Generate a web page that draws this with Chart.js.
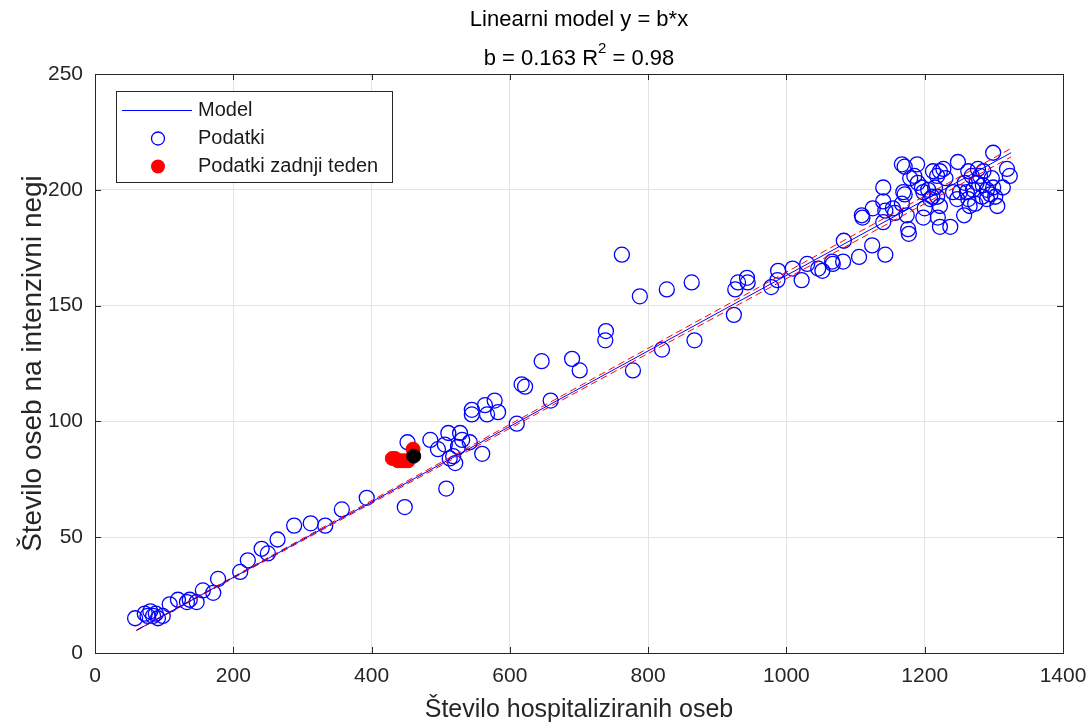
<!DOCTYPE html>
<html>
<head>
<meta charset="utf-8">
<script src="https://cdn.jsdelivr.net/npm/chart.js@4.4.1/dist/chart.umd.min.js"></script>
<style>
  html, body { margin: 0; padding: 0; background: #fff; }
  canvas { display: block; }
</style>
</head>
<body>
<canvas id="graf" width="1091" height="725"></canvas>
<script>
// podatki (hospitalizirani -> intenzivna nega), odčitano s slike
const podatkiX = [58, 72, 80, 84, 91, 98, 88, 76, 108, 120, 133, 137, 147, 156, 171, 178, 210, 221, 241, 250,
  264, 288, 312, 333, 357, 393, 448, 452, 485, 496, 506, 511, 508, 528, 531, 525, 542, 560, 518, 521,
  513, 545, 545, 564, 567, 578, 583, 610, 617, 622, 646, 659, 690, 701, 738, 739, 762, 778, 788, 820,
  827, 863, 867, 924, 926, 930, 943, 944, 978, 987, 988, 1009, 1022, 1030, 1046, 1052, 1066, 1067, 1082, 1083,
  1105, 1124, 1143, 1109, 1110, 1125, 1140, 1143, 1140, 1154, 1157, 1140, 1167, 1171, 1189, 1179, 1169, 1171, 1167, 1174,
  1176, 1177, 1190, 1196, 1198, 1200, 1198, 1208, 1212, 1218, 1222, 1227, 1222, 1219, 1222, 1237, 1205, 1211, 1218, 1241,
  1248, 1263, 1268, 1258, 1261, 1257, 1263, 1273, 1277, 1280, 1284, 1290, 1283, 1290, 1297, 1299, 1302, 1305, 1299, 1313,
  1319, 1323, 1251, 1247, 1185, 1230, 1270, 1285, 1295, 1275, 1265, 1215];
const podatkiY = [15, 17, 18, 16, 15, 16, 17, 16, 21, 23, 22, 23, 22, 27, 26, 32, 35, 40, 45, 43,
  49, 55, 56, 55, 62, 67, 63, 91, 92, 88, 90, 95, 71, 95, 92, 89, 91, 86, 85, 82,
  84, 105, 103, 107, 103, 109, 104, 99, 116, 115, 126, 109, 127, 122, 135, 139, 172, 122, 154, 131,
  157, 160, 135, 146, 157, 160, 162, 160, 158, 161, 165, 166, 161, 168, 166, 165, 169, 168, 169, 178,
  171, 176, 172, 189, 188, 192, 195, 191, 201, 192, 190, 186, 211, 210, 211, 205, 199, 198, 194, 189,
  183, 181, 203, 201, 199, 192, 188, 196, 208, 206, 208, 209, 193, 188, 184, 184, 200, 197, 197, 199,
  212, 208, 206, 203, 199, 189, 196, 194, 209, 206, 202, 200, 197, 196, 205, 201, 197, 193, 216, 201,
  209, 206, 199, 196, 206, 205, 200, 208, 198, 203, 193, 201];

// zadnji teden (rdeče) in zadnji dan (črno)
const zadnjiX = [430, 434, 438, 443, 448, 453, 460];
const zadnjiY = [84, 84, 83, 83, 83, 83, 88];
const zadnjiDanX = [461];
const zadnjiDanY = [85];

// model y = b*x in meje (rdeče črtkano)
const modelX = [60, 1325];
const modelY = [9.8, 216.0];
const spodnjaY = [9.7, 214.2];
const zgornjaY = [9.9, 217.9];

const xTicks = [0, 200, 400, 600, 800, 1000, 1200, 1400];
const yTicks = [0, 50, 100, 150, 200, 250];

const pisava = "'Liberation Sans', Arial, sans-serif";
const tockeIz = (xs, ys) => xs.map((x, i) => ({ x: x, y: ys[i] }));

const okvir = {
  id: "okvir",
  afterDraw(chart) {
    const ctx = chart.ctx;
    const a = chart.chartArea;
    const sx = chart.scales.x, sy = chart.scales.y;
    ctx.save();
    ctx.strokeStyle = "#262626";
    ctx.lineWidth = 1;
    ctx.beginPath();
    xTicks.forEach((v) => {
      const p = Math.round(sx.getPixelForValue(v)) + 0.5;
      ctx.moveTo(p, a.bottom); ctx.lineTo(p, a.bottom - 6);
      ctx.moveTo(p, a.top); ctx.lineTo(p, a.top + 6);
    });
    yTicks.forEach((v) => {
      const p = Math.round(sy.getPixelForValue(v)) + 0.5;
      ctx.moveTo(a.left, p); ctx.lineTo(a.left + 6, p);
      ctx.moveTo(a.right, p); ctx.lineTo(a.right - 6, p);
    });
    ctx.stroke();
    ctx.strokeRect(Math.round(a.left) + 0.5, Math.round(a.top) + 0.5,
      Math.round(a.right - a.left), Math.round(a.bottom - a.top));

    // legenda
    const lx = 116.5, ly = 91.5, lw = 276, lh = 91;
    ctx.fillStyle = "#fff";
    ctx.fillRect(lx, ly, lw, lh);
    ctx.strokeRect(lx, ly, lw, lh);
    ctx.strokeStyle = "#0000ff";
    ctx.beginPath();
    ctx.moveTo(122, 110.5); ctx.lineTo(192, 110.5);
    ctx.stroke();
    ctx.lineWidth = 1.3;
    ctx.beginPath();
    ctx.arc(158, 138.5, 6.5, 0, Math.PI * 2);
    ctx.stroke();
    ctx.fillStyle = "#ff0000";
    ctx.beginPath();
    ctx.arc(158, 166.5, 7, 0, Math.PI * 2);
    ctx.fill();
    ctx.fillStyle = "#1a1a1a";
    ctx.font = "20px " + pisava;
    ctx.textAlign = "left";
    ctx.textBaseline = "middle";
    ctx.fillText("Model", 198, 110);
    ctx.fillText("Podatki", 198, 138);
    ctx.fillText("Podatki zadnji teden", 198, 166);

    // naslov
    const cx = (a.left + a.right) / 2;
    ctx.fillStyle = "#000";
    ctx.font = "22px " + pisava;
    ctx.textAlign = "center";
    ctx.fillText("Linearni model y = b*x", cx, 20);
    const d1 = "b = 0.163 R", d2 = "2", d3 = " = 0.98";
    const w1 = ctx.measureText(d1).width, w3 = ctx.measureText(d3).width;
    ctx.font = "15px " + pisava;
    const w2 = ctx.measureText(d2).width;
    let x0 = cx - (w1 + w2 + w3) / 2;
    ctx.textAlign = "left";
    ctx.font = "22px " + pisava;
    ctx.fillText(d1, x0, 59);
    ctx.font = "15px " + pisava;
    ctx.fillText(d2, x0 + w1, 49);
    ctx.font = "22px " + pisava;
    ctx.fillText(d3, x0 + w1 + w2, 59);
    ctx.restore();
  }
};

new Chart(document.getElementById("graf").getContext("2d"), {
  type: "scatter",
  data: {
    datasets: [
      {
        label: "Zadnji dan",
        data: tockeIz(zadnjiDanX, zadnjiDanY),
        backgroundColor: "#000",
        borderColor: "#000",
        pointRadius: 7,
        order: 0
      },
      {
        label: "Podatki zadnji teden",
        data: tockeIz(zadnjiX, zadnjiY),
        backgroundColor: "#ff0000",
        borderColor: "#ff0000",
        pointRadius: 7,
        order: 1
      },
      {
        label: "Model",
        type: "line",
        data: tockeIz(modelX, modelY),
        borderColor: "#0000ff",
        borderWidth: 1,
        pointRadius: 0,
        order: 2
      },
      {
        label: "Spodnja meja",
        type: "line",
        data: tockeIz(modelX, spodnjaY),
        borderColor: "#ff0000",
        borderWidth: 1,
        borderDash: [7, 4],
        pointRadius: 0,
        order: 3
      },
      {
        label: "Zgornja meja",
        type: "line",
        data: tockeIz(modelX, zgornjaY),
        borderColor: "#ff0000",
        borderWidth: 1,
        borderDash: [7, 4],
        pointRadius: 0,
        order: 3
      },
      {
        label: "Podatki",
        data: tockeIz(podatkiX, podatkiY),
        backgroundColor: "rgba(0,0,0,0)",
        borderColor: "#0000ff",
        borderWidth: 1.3,
        pointRadius: 7.5,
        order: 4
      }
    ]
  },
  options: {
    responsive: false,
    animation: false,
    layout: { padding: { left: 0, right: 28, top: 74, bottom: 0 } },
    plugins: {
      legend: { display: false },
      tooltip: { enabled: false }
    },
    scales: {
      x: {
        type: "linear",
        min: 0,
        max: 1400,
        afterFit: (s) => { s.height = 72; s.paddingLeft = 0; s.paddingRight = 0; },
        ticks: { stepSize: 200, padding: 11, color: "#262626", font: { family: pisava, size: 21 },
          callback: (v) => String(v) },
        grid: { color: "#e3e3e3", drawTicks: false },
        border: { display: false },
        title: {
          display: true,
          text: "Število hospitaliziranih oseb",
          color: "#262626",
          font: { family: pisava, size: 25 },
          padding: { top: 0, bottom: 0 }
        }
      },
      y: {
        type: "linear",
        min: 0,
        max: 250,
        afterFit: (s) => { s.width = 95; s.paddingTop = 0; s.paddingBottom = 0; },
        ticks: { stepSize: 50, padding: 12, color: "#262626", font: { family: pisava, size: 21 },
          callback: (v) => String(v) },
        grid: { color: "#e3e3e3", drawTicks: false },
        border: { display: false },
        title: {
          display: true,
          text: "Število oseb na intenzivni negi",
          color: "#262626",
          font: { family: pisava, size: 28 },
          padding: { top: 16, bottom: 0 }
        }
      }
    }
  },
  plugins: [okvir]
});
</script>
</body>
</html>
